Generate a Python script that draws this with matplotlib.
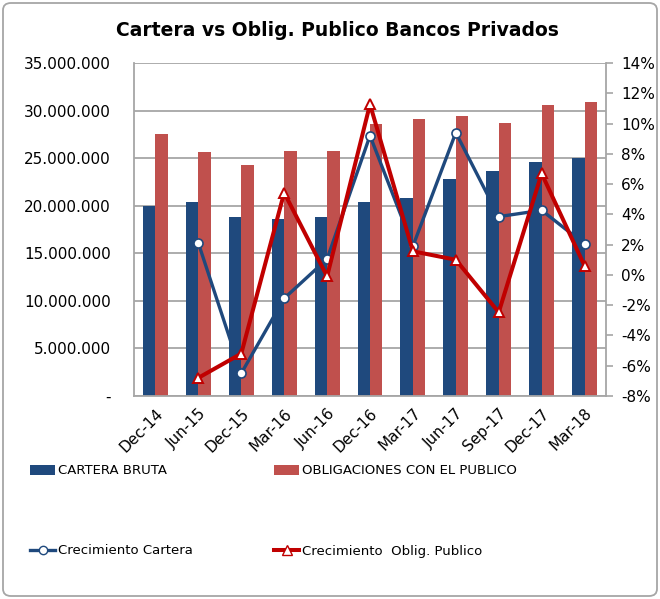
import matplotlib
matplotlib.use("Agg")
import matplotlib.pyplot as plt
import numpy as np
from matplotlib.patches import FancyBboxPatch, Patch
from matplotlib.lines import Line2D
from matplotlib.ticker import FuncFormatter, FixedLocator

categories = ["Dec-14", "Jun-15", "Dec-15", "Mar-16", "Jun-16", "Dec-16",
              "Mar-17", "Jun-17", "Sep-17", "Dec-17", "Mar-18"]
cartera_bruta = [20.0e6, 20.4e6, 18.85e6, 18.6e6, 18.85e6, 20.4e6,
                 20.8e6, 22.8e6, 23.6e6, 24.55e6, 25.05e6]
obligaciones = [27.5e6, 25.6e6, 24.3e6, 25.75e6, 25.75e6, 28.6e6,
                29.1e6, 29.4e6, 28.7e6, 30.6e6, 30.85e6]
crec_cartera = [np.nan, 2.1, -6.5, -1.55, 1.05, 9.2, 1.9, 9.4, 3.85, 4.27, 2.04]
crec_oblig = [np.nan, -6.8, -5.2, 5.43, -0.1, 11.27, 1.56, 1.0, -2.47, 6.7, 0.6]

left_ticks = [0, 5e6, 10e6, 15e6, 20e6, 25e6, 30e6, 35e6]
right_ticks = list(range(-8, 16, 2))

BLUE = "#1F497D"
RED_BAR = "#C0504D"
RED_LINE = "#C00000"
GRID = "#A6A6A6"

plt.rcParams['font.family'] = ['DejaVu Sans']

fig = plt.figure(figsize=(6.6, 5.99), dpi=100)
ax = fig.add_axes([134/660, 1-396/599, (606-134)/660, (396-63)/599])

x = np.arange(len(categories))
w = 0.29
ax.bar(x - w/2, cartera_bruta, w, color=BLUE, zorder=2)
ax.bar(x + w/2, obligaciones, w, color=RED_BAR, zorder=2)
ax.set_xlim(-0.5, len(categories) - 0.5)
ax.set_ylim(0, 35e6)
ax.yaxis.set_major_locator(FixedLocator(left_ticks))

def fmt_left(v, pos):
    if v == 0:
        return "-"
    return f"{int(round(v)):,}".replace(",", ".")
ax.yaxis.set_major_formatter(FuncFormatter(fmt_left))
ax.grid(axis='y', color=GRID, linewidth=1.3, zorder=0)
ax.set_axisbelow(True)
ax.set_xticks(x)
ax.set_xticklabels(categories, rotation=45, ha='right', rotation_mode='anchor', fontsize=11)
ax.tick_params(axis='x', length=0, pad=7)
ax.tick_params(axis='y', labelsize=11, length=0, pad=16.5)
for s in ['left', 'bottom', 'right']:
    ax.spines[s].set_color(GRID)
    ax.spines[s].set_linewidth(1.3)
ax.spines['top'].set_visible(False)

ax2 = ax.twinx()
ax2.set_ylim(-8, 14)
ax2.yaxis.set_major_locator(FixedLocator(right_ticks))
ax2.yaxis.set_major_formatter(FuncFormatter(lambda v, p: f"{int(round(v))}%"))
ax2.tick_params(axis='y', labelsize=11, length=5, color=GRID, width=1.2, pad=6)
for s in ['left', 'bottom', 'right', 'top']:
    ax2.spines[s].set_visible(False)
ax2.plot(x, crec_cartera, color=BLUE, linewidth=2.4, marker='o', markersize=6.5,
         markerfacecolor='white', markeredgecolor=BLUE, markeredgewidth=1.2, zorder=3)
ax2.plot(x, crec_oblig, color=RED_LINE, linewidth=2.9, marker='^', markersize=7,
         markerfacecolor='white', markeredgecolor=RED_LINE, markeredgewidth=1.4, zorder=4)

fig.text(337/660, 1-31/599, "Cartera vs Oblig. Publico Bancos Privados",
         ha='center', va='center', fontsize=13.5, fontweight='bold')

# legends
leg_font = 9.5
def add_leg(handle, label, xpx, ypx):
    lg = fig.legend([handle], [label], loc='center left',
                    bbox_to_anchor=(xpx/660, 1-ypx/599), frameon=False,
                    fontsize=leg_font, handlelength=1.9, handletextpad=0.25,
                    borderaxespad=0, borderpad=0)
    return lg

add_leg(Patch(facecolor=BLUE, edgecolor='none'), "CARTERA BRUTA", 30, 471)
add_leg(Patch(facecolor=RED_BAR, edgecolor='none'), "OBLIGACIONES CON EL PUBLICO", 274, 471)
add_leg(Line2D([], [], color=BLUE, linewidth=2.4, marker='o', markersize=6,
               markerfacecolor='white', markeredgecolor=BLUE), "Crecimiento Cartera", 30, 551)
add_leg(Line2D([], [], color=RED_LINE, linewidth=2.9, marker='^', markersize=6.5,
               markerfacecolor='white', markeredgecolor=RED_LINE), "Crecimiento  Oblig. Publico", 274, 551)

border = FancyBboxPatch((3/660, 3/599), 654/660, 593/599,
                        boxstyle="round,pad=0,rounding_size=0.012",
                        transform=fig.transFigure, facecolor='none',
                        edgecolor='#A6A6A6', linewidth=1.3)
fig.patches.append(border)

fig.savefig("out.png", dpi=100)
